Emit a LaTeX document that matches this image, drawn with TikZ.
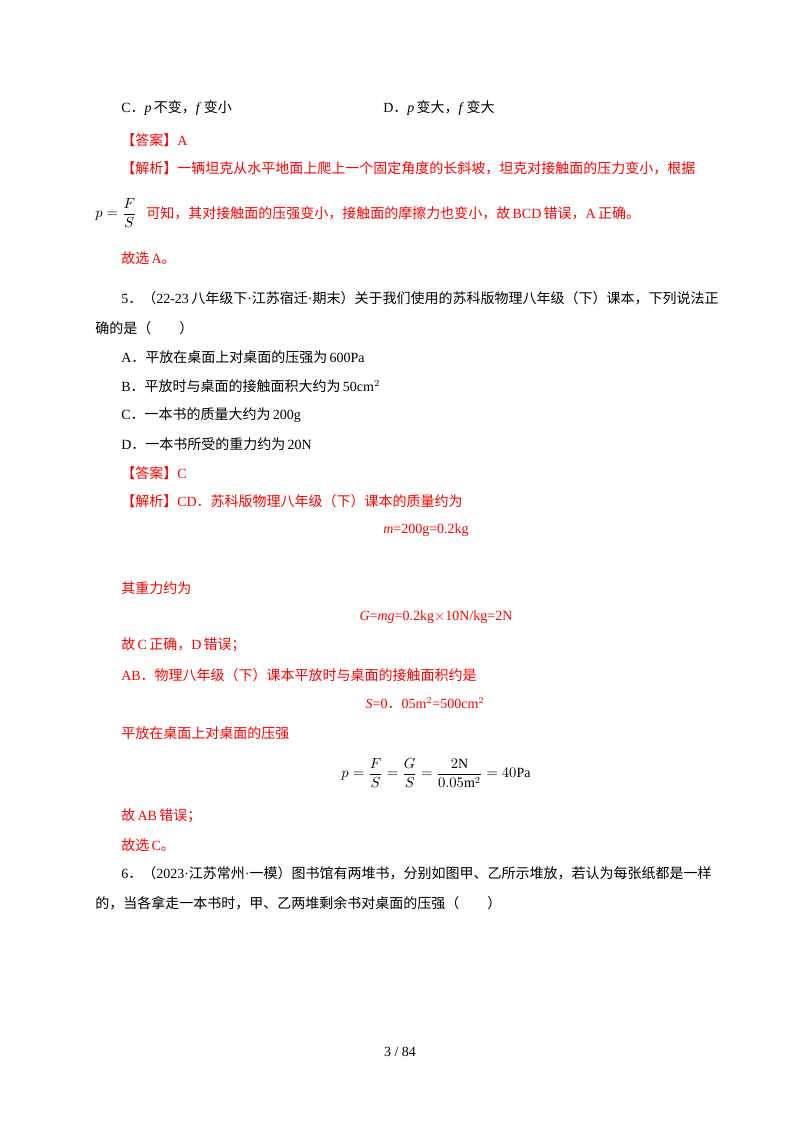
\documentclass[tikz,border=0pt]{standalone}
\usepackage{amsmath}
\usepackage{fontspec}
\setmainfont{Liberation Serif}
\newfontfamily\cjk{Noto Sans CJK SC}
\newcommand{\zh}[1]{{\cjk #1}}
\begin{document}
\begin{tikzpicture}[x=0.75pt,y=-0.75pt,
  txt/.style={anchor=west,inner sep=0pt,font=\fontsize{10.5}{12}\selectfont},
  red/.style={txt,text={rgb,255:red,255;green,0;blue,0}},
  ctr/.style={red,anchor=center}]
\useasboundingbox[fill=white] (0,0) rectangle (800,1132);
\node[txt] (c) at (121,108) {C\zh{．}\textit{p}\,\zh{不变，}\textit{f}\,\zh{变小}};
\node[txt] (d) at (383,108) {D\zh{．}\textit{p}\,\zh{变大，}\textit{f}\,\zh{变大}};
\node[red] (a1) at (121,140) {\zh{【答案】}A};
\node[red] (j1) at (121,168) {\zh{【解析】一辆坦克从水平地面上爬上一个固定角度的长斜坡，坦克对接触面的压力变小，根据}};
\node[red,text=black] (f1) at (95,213) {$p=\dfrac{F}{S}$};
\node[red] (j2) at (146,213) {\zh{可知，其对接触面的压强变小，接触面的摩擦力也变小，故}\,BCD\,\zh{错误，}A\,\zh{正确。}};
\node[red] (g1) at (121,258) {\zh{故选}\,A\zh{。}};
\node[txt] (q5) at (121,298) {5\zh{．（}22-23\,\zh{八年级下}·\zh{江苏宿迁}·\zh{期末）关于我们使用的苏科版物理八年级（下）课本，下列说法正}};
\node[txt] (q5b) at (95,328) {\zh{确的是（\qquad ）}};
\node[txt] (oa) at (121,357) {A\zh{．平放在桌面上对桌面的压强为}\,600Pa};
\node[txt] (ob) at (121,386) {B\zh{．平放时与桌面的接触面积大约为}\,50cm$^{2}$};
\node[txt] (oc) at (121,415) {C\zh{．一本书的质量大约为}\,200g};
\node[txt] (od) at (121,444) {D\zh{．一本书所受的重力约为}\,20N};
\node[red] (a2) at (121,473) {\zh{【答案】}C};
\node[red] (j3) at (121,501) {\zh{【解析】}CD\zh{．苏科版物理八年级（下）课本的质量约为}};
\node[ctr] (e1) at (426,530) {\textit{m}=200g=0.2kg};
\node[red] (t1) at (121,588) {\zh{其重力约为}};
\node[ctr] (e2) at (436,617) {\textit{G}=\textit{mg}=0.2kg$\times$10N/kg=2N};
\node[red] (t2) at (121,645) {\zh{故}\,C\,\zh{正确，}D\,\zh{错误；}};
\node[red] (t3) at (121,675) {AB\zh{．物理八年级（下）课本平放时与桌面的接触面积约是}};
\node[ctr] (e3) at (425,703) {\textit{S}=0\zh{．}05m$^{2}$=500cm$^{2}$};
\node[red] (t4) at (121,733) {\zh{平放在桌面上对桌面的压强}};
\node[ctr,text=black] (e4) at (436,773) {$p=\dfrac{F}{S}=\dfrac{G}{S}=\dfrac{2\mathrm{N}}{0.05\mathrm{m}^{2}}=40\mathrm{Pa}$};
\node[red] (t5) at (121,816) {\zh{故}\,AB\,\zh{错误；}};
\node[red] (t6) at (121,845) {\zh{故选}\,C\zh{。}};
\node[txt] (q6) at (121,873) {6\zh{．（}2023·\zh{江苏常州}·\zh{一模）图书馆有两堆书，分别如图甲、乙所示堆放，若认为每张纸都是一样}};
\node[txt] (q6b) at (95,903) {\zh{的，当各拿走一本书时，甲、乙两堆剩余书对桌面的压强（\qquad ）}};
\node[txt,anchor=center] (pg) at (400,1052) {3 / 84};
\end{tikzpicture}
\end{document}
